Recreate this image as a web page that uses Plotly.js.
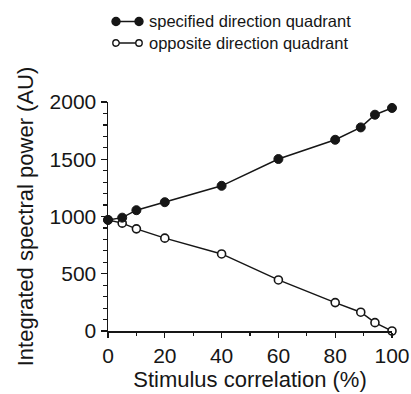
<!DOCTYPE html>
<html>
<head>
<meta charset="utf-8">
<script src="https://cdn.plot.ly/plotly-3.0.1.min.js"></script>
<style>html,body{margin:0;padding:0;background:#fff;}#chart{width:411px;height:394px;}</style>
</head>
<body>
<div id="chart"></div>
<script>
const correlation = [0, 5, 10, 20, 40, 60, 80, 89, 94, 100];
const specifiedPower = [970, 990, 1055, 1125, 1268, 1502, 1670, 1778, 1889, 1948];
const oppositePower = [970, 942, 892, 811, 673, 446, 248, 164, 73, 0];
const seriesNames = ['specified direction quadrant', 'opposite direction quadrant'];
const xTicks = [0, 20, 40, 60, 80, 100];
const yTicks = [0, 500, 1000, 1500, 2000];

const FONT = 'Liberation Sans, Arial, Helvetica, sans-serif';
const INK = '#161616';

// plot box in pixels (for placing the hand-drawn legend key)
const M = {l: 108, r: 19, t: 102, b: 63};
const W = 411, H = 394;
const PW = W - M.l - M.r, PH = H - M.t - M.b;
const px2x = p => (p - M.l) / PW;
const px2y = p => (H - M.b - p) / PH;

const traces = [
  {
    x: correlation, y: oppositePower, name: seriesNames[1],
    mode: 'lines+markers', type: 'scatter', cliponaxis: false, showlegend: false,
    line: {color: INK, width: 1.5},
    marker: {symbol: 'circle', size: 8, color: '#fff', line: {color: INK, width: 1.6}}
  },
  {
    x: correlation, y: specifiedPower, name: seriesNames[0],
    mode: 'lines+markers', type: 'scatter', cliponaxis: false, showlegend: false,
    line: {color: INK, width: 1.5},
    marker: {symbol: 'circle', size: 9, color: INK, line: {color: INK, width: 1}}
  }
];

// legend key (decoration): a short line with a marker at each end, then the label
const keyRows = [
  {name: seriesNames[0], y: 21.5, fill: INK, r: 4},
  {name: seriesNames[1], y: 43, fill: '#fff', r: 3.2}
];
const shapes = [];
const annotations = [];
keyRows.forEach(k => {
  const yy = px2y(k.y);
  shapes.push({type: 'line', xref: 'paper', yref: 'paper', x0: px2x(116), x1: px2x(139), y0: yy, y1: yy,
               line: {color: INK, width: 1.5}});
  [116, 139].forEach(cx => {
    shapes.push({type: 'circle', xref: 'paper', yref: 'paper', xsizemode: 'pixel', ysizemode: 'pixel',
                 xanchor: px2x(cx), yanchor: yy, x0: -k.r, x1: k.r, y0: -k.r, y1: k.r,
                 fillcolor: k.fill, line: {color: INK, width: 1.4}});
  });
  annotations.push({xref: 'paper', yref: 'paper', x: px2x(147), y: yy, xanchor: 'left', yanchor: 'middle',
                    text: k.name, showarrow: false, font: {family: FONT, size: 16.5, color: INK}});
});

const layout = {
  width: W, height: H,
  margin: M,
  paper_bgcolor: '#fff', plot_bgcolor: '#fff',
  font: {family: FONT, color: INK, size: 21},
  showlegend: false,
  shapes: shapes,
  annotations: annotations,
  xaxis: {
    range: [0, 100], tickvals: xTicks, ticktext: xTicks.map(String),
    ticks: 'outside', ticklen: 5, tickwidth: 1.3, tickcolor: INK,
    minor: {dtick: 10, ticks: 'outside', ticklen: 3, tickwidth: 1.2, tickcolor: INK},
    showline: true, linecolor: INK, linewidth: 1.5,
    showgrid: false, zeroline: false,
    tickfont: {family: FONT, size: 21, color: INK},
    title: {text: 'Stimulus correlation (%)', font: {family: FONT, size: 22, color: INK}, standoff: 6}
  },
  yaxis: {
    range: [0, 2000], tickvals: yTicks, ticktext: yTicks.map(String),
    ticks: 'outside', ticklen: 6, tickwidth: 1.3, tickcolor: INK,
    minor: {dtick: 100, ticks: 'outside', ticklen: 4, tickwidth: 1.2, tickcolor: INK},
    showline: true, linecolor: INK, linewidth: 1.5,
    showgrid: false, zeroline: false,
    tickfont: {family: FONT, size: 21, color: INK},
    title: {text: 'Integrated spectral power (AU)', font: {family: FONT, size: 22, color: INK}, standoff: 10}
  }
};

Plotly.newPlot('chart', traces, layout, {displayModeBar: false, staticPlot: true});
</script>
</body>
</html>
